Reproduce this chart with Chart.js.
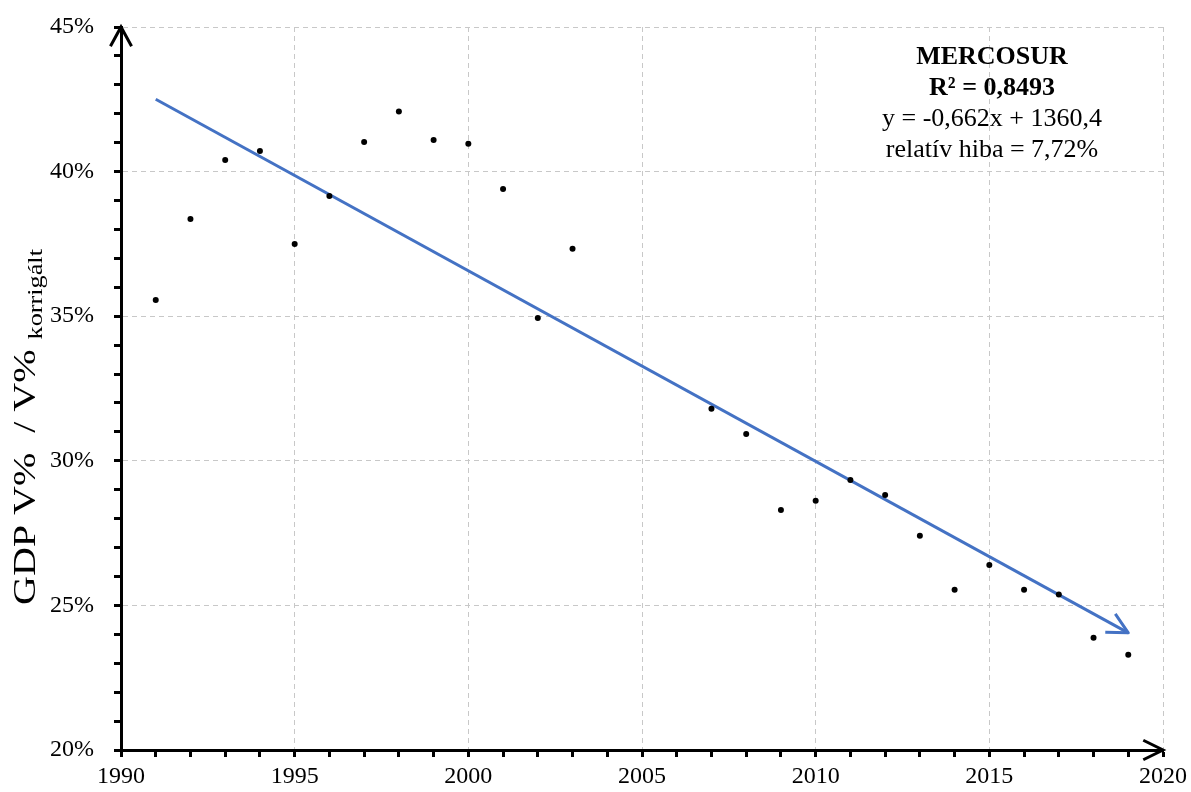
<!DOCTYPE html>
<html>
<head>
<meta charset="utf-8">
<script src="https://cdn.jsdelivr.net/npm/chart.js"></script>
<style>
body{margin:0;background:#fff}
#wrap{width:1191px;height:792px;position:relative}
</style>
</head>
<body>
<div id="wrap"><canvas id="chart"></canvas></div>

<script>
/* =========================
   DATA
========================= */
const years = [1991,1992,1993,1994,1995,1996,1997,1998,1999,2000,2001,2002,2003,
               2007,2008,2009,2010,2011,2012,2013,2014,2015,2016,2017,2018,2019];
const shares = [35.56,38.36,40.40,40.71,37.50,39.16,41.02,42.08,41.09,40.96,39.40,34.94,37.33,
                31.80,30.93,28.30,28.62,29.34,28.82,27.41,25.54,26.40,25.54,25.38,23.88,23.29];

const trendYears = [1991, 2019];
const trendValues = [42.50, 24.05];

const xRange = [1990, 2020];
const yRange = [20, 45];
const majorStep = 5;

const infoLines = ["MERCOSUR", "R² = 0,8493", "y = -0,662x + 1360,4", "relatív hiba = 7,72%"];

/* =========================
   HELPERS
========================= */
const FONT = "'Liberation Serif','Times New Roman',serif";
const BLUE = "#4472C4";

function isMajor(v) {
  return Math.abs(v % majorStep) < 1e-9;
}

function arrowHead(ctx, x, y, ang, len, spread) {
  ctx.beginPath();
  ctx.moveTo(x + len * Math.cos(ang + Math.PI - spread), y + len * Math.sin(ang + Math.PI - spread));
  ctx.lineTo(x, y);
  ctx.lineTo(x + len * Math.cos(ang + Math.PI + spread), y + len * Math.sin(ang + Math.PI + spread));
  ctx.stroke();
}

/* =========================
   PLUGINS
========================= */
const decorations = {
  id: "decorations",
  afterDraw(chart) {
    const ctx = chart.ctx;
    const a = chart.chartArea;

    // axis arrows
    ctx.save();
    ctx.strokeStyle = "#000";
    ctx.lineWidth = 3;
    ctx.lineJoin = "miter";
    arrowHead(ctx, a.left, a.top, -Math.PI / 2, 22, 0.5);
    arrowHead(ctx, a.right, a.bottom, 0, 22, 0.46);
    ctx.restore();

    // trend arrow
    const meta = chart.getDatasetMeta(1);
    const pts = meta.data;
    const p1 = pts[pts.length - 2], p2 = pts[pts.length - 1];
    const ang = Math.atan2(p2.y - p1.y, p2.x - p1.x);
    ctx.save();
    ctx.strokeStyle = BLUE;
    ctx.lineWidth = 3;
    ctx.lineJoin = "round";
    arrowHead(ctx, p2.x, p2.y, ang, 23, 0.47);
    ctx.restore();

    // info text
    ctx.save();
    ctx.fillStyle = "#000";
    ctx.textAlign = "center";
    ctx.textBaseline = "alphabetic";
    const cx = 992;
    const base = [64, 95, 126, 157];
    infoLines.forEach((t, i) => {
      ctx.font = (i < 2 ? "bold " : "") + "26px " + FONT;
      ctx.fillText(t, cx, base[i]);
    });
    ctx.restore();

    // y axis title with subscript
    ctx.save();
    ctx.translate(35, 605);
    ctx.rotate(-Math.PI / 2);
    ctx.scale(1.25, 1);
    ctx.fillStyle = "#000";
    ctx.textAlign = "left";
    ctx.textBaseline = "alphabetic";
    ctx.font = "32px " + FONT;
    const main = "GDP V%  / V%";
    ctx.fillText(main, 0, 0);
    const w = ctx.measureText(main + " ").width;
    ctx.font = "21px " + FONT;
    ctx.fillText("korrigált", w, 7);
    ctx.restore();
  }
};

/* =========================
   CHART
========================= */
const points = years.map((y, i) => ({ x: y, y: shares[i] }));
const trend = trendYears.map((y, i) => ({ x: y, y: trendValues[i] }));

function fitX(s) {
  s.height = 42;
  s.paddingLeft = 0;
  s.paddingRight = 0;
}

function fitY(s) {
  s.width = 121;
  s.paddingTop = 0;
  s.paddingBottom = 0;
}

new Chart(document.getElementById("chart"), {
  type: "scatter",
  data: {
    datasets: [
      {
        data: points,
        backgroundColor: "#000",
        borderWidth: 0,
        pointRadius: 3,
        pointHoverRadius: 3
      },
      {
        type: "line",
        data: trend,
        borderColor: BLUE,
        borderWidth: 3,
        pointRadius: 0,
        fill: false
      }
    ]
  },
  options: {
    responsive: true,
    maintainAspectRatio: false,
    animation: false,
    events: [],
    layout: { padding: { top: 27, right: 28, left: 0, bottom: 0 } },
    plugins: { legend: { display: false }, tooltip: { enabled: false } },
    scales: {
      x: {
        type: "linear",
        min: xRange[0],
        max: xRange[1],
        afterFit: fitX,
        ticks: {
          stepSize: 1,
          autoSkip: false,
          maxRotation: 0,
          padding: 5,
          color: "#000",
          font: { family: FONT, size: 24 },
          callback: v => isMajor(v) ? String(v) : ""
        },
        grid: {
          color: c => c.tick && isMajor(c.tick.value) ? "#c8c8c8" : "rgba(0,0,0,0)",
          lineWidth: 1,
          tickColor: "#000",
          tickLength: 7,
          tickWidth: 3
        },
        border: { display: true, color: "#000", width: 3, dash: [5, 4] }
      },
      y: {
        min: yRange[0],
        max: yRange[1],
        afterFit: fitY,
        ticks: {
          stepSize: 1,
          autoSkip: false,
          padding: 20,
          color: "#000",
          font: { family: FONT, size: 24 },
          callback: v => isMajor(v) ? v + "%" : ""
        },
        grid: {
          color: c => c.tick && isMajor(c.tick.value) ? "#c8c8c8" : "rgba(0,0,0,0)",
          lineWidth: 1,
          tickColor: "#000",
          tickLength: 7,
          tickWidth: 3
        },
        border: { display: true, color: "#000", width: 3, dash: [5, 4] }
      }
    }
  },
  plugins: [decorations]
});
</script>
</body>
</html>
